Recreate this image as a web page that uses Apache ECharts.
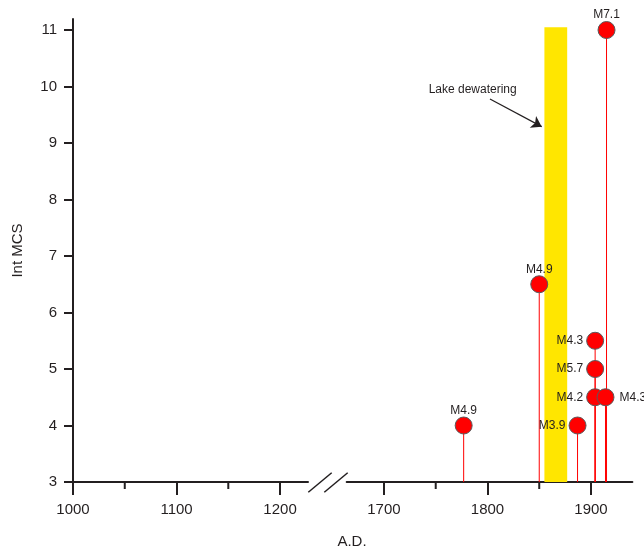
<!DOCTYPE html>
<html>
<head>
<meta charset="utf-8">
<script src="https://cdn.jsdelivr.net/npm/echarts@6/dist/echarts.min.js"></script>
<style>
  html, body { margin: 0; padding: 0; background: #fff; }
  #chart { width: 644px; height: 552px; }
</style>
</head>
<body>
<div id="chart"></div>
<script>
// events (year, intensity MCS, magnitude label)
const eventYears = [1777, 1850, 1887, 1904, 1904, 1904, 1914, 1915];
const intensities = [4, 6.5, 4, 4.5, 5, 5.5, 4.5, 11];
const magnitudes = ['M4.9', 'M4.9', 'M3.9', 'M4.2', 'M5.7', 'M4.3', 'M4.3', 'M7.1'];

// lake dewatering period
const dewateringSpan = [1855, 1877];
const dewateringTop = 11.05;
const dewateringText = 'Lake dewatering';
const arrowFrom = [1802.4, 9.78];
const arrowTo = [1852.4, 9.29];
const textAt = [1785.7, 9.945];

// axes
const yRange = [3, 11.195];
const yTicks = [3, 4, 5, 6, 7, 8, 9, 10, 11];
const leftRange = [1000, 1227];
const leftMajor = [1000, 1100, 1200];
const leftMinor = [1050, 1150];
const rightRange = [1664, 1940];
const rightMajor = [1700, 1800, 1900];
const rightMinor = [1750, 1850];

// label side for each event (style only)
const labelSide = ['top', 'top', 'left', 'left', 'left', 'left', 'right', 'top'];

const ink = '#231f20';

const chart = echarts.init(document.getElementById('chart'));

function xAxisFor(grid, range, ticks) {
    return {
        type: 'value', gridIndex: grid, position: 'bottom', min: range[0], max: range[1],
        axisLine: { show: true, lineStyle: { color: ink, width: 2 } },
        axisTick: { show: true, customValues: ticks, length: 13, lineStyle: { color: ink, width: 2 } },
        axisLabel: { customValues: ticks, margin: 20, color: ink, fontSize: 15, formatter: v => String(v) },
        splitLine: { show: false }
    };
}

const points = eventYears.map((yr, i) => ({
    value: [yr, intensities[i]],
    label: {
        show: true, formatter: magnitudes[i], position: labelSide[i],
        distance: labelSide[i] === 'right' ? 5 : (labelSide[i] === 'top' ? 0 : 3)
    }
}));

chart.setOption({
    animation: false,
    grid: [
        { left: 73, top: 19, width: 235, height: 463, outerBoundsMode: 'none' },
        { left: 346.7, top: 19, width: 285.7, height: 463, outerBoundsMode: 'none' }
    ],
    xAxis: [
        xAxisFor(0, leftRange, leftMajor),
        xAxisFor(1, rightRange, rightMajor)
    ],
    yAxis: [
        {
            type: 'value', gridIndex: 0, min: yRange[0], max: yRange[1],
            name: 'Int MCS', nameLocation: 'middle', nameGap: 48,
            nameTextStyle: { color: ink, fontSize: 15 },
            axisLine: { show: true, lineStyle: { color: ink, width: 2 } },
            axisTick: { show: true, customValues: yTicks, length: 9, lineStyle: { color: ink, width: 2 } },
            axisLabel: { show: true, customValues: yTicks, margin: 16, color: ink, fontSize: 15 },
            splitLine: { show: false }
        },
        { type: 'value', gridIndex: 1, min: yRange[0], max: yRange[1], show: false }
    ],
    series: [
        {
            type: 'custom', xAxisIndex: 1, yAxisIndex: 1, z: 1,
            data: [[dewateringSpan[0], dewateringSpan[1], dewateringTop]],
            renderItem(params, api) {
                const p0 = api.coord([api.value(0), api.value(2)]);
                const p1 = api.coord([api.value(1), yRange[0]]);
                return {
                    type: 'rect',
                    shape: { x: p0[0], y: p0[1], width: p1[0] - p0[0], height: p1[1] - p0[1] },
                    style: { fill: '#ffe600' }
                };
            }
        },
        {
            type: 'custom', xAxisIndex: 1, yAxisIndex: 1, z: 2,
            data: eventYears.map((yr, i) => [yr, intensities[i]]),
            renderItem(params, api) {
                const top = api.coord([api.value(0), api.value(1)]);
                const base = api.coord([api.value(0), yRange[0]]);
                return {
                    type: 'line',
                    shape: { x1: base[0], y1: base[1], x2: top[0], y2: top[1] },
                    style: { stroke: '#ff0000', lineWidth: 1 }
                };
            }
        },
        {
            type: 'scatter', xAxisIndex: 1, yAxisIndex: 1, z: 3,
            symbolSize: 17,
            itemStyle: { color: '#ff0000', borderColor: '#58595b', borderWidth: 1, opacity: 1 },
            label: { color: ink, fontSize: 12 },
            data: points,
            markLine: {
                silent: true, animation: false,
                symbol: ['none', 'arrow'], symbolSize: 10,
                lineStyle: { color: ink, width: 1.2, type: 'solid' },
                label: { show: false },
                data: [[{ coord: arrowFrom }, { coord: arrowTo }]]
            },
            markPoint: {
                silent: true, animation: false,
                symbol: 'circle', symbolSize: 0,
                label: { show: true, position: 'inside', formatter: '{b}', color: ink, fontSize: 12 },
                data: [{ name: dewateringText, coord: textAt }]
            }
        }
    ]
});

// minor ticks, break marks and the x title
function minorTicks(grid, values) {
    return values.map(v => {
        const p = chart.convertToPixel({ gridIndex: grid }, [v, yRange[0]]);
        return { type: 'line', shape: { x1: p[0], y1: p[1], x2: p[0], y2: p[1] + 7 }, style: { stroke: ink, lineWidth: 2 } };
    });
}

chart.setOption({
    graphic: [
        ...minorTicks(0, leftMinor),
        ...minorTicks(1, rightMinor),
        { type: 'line', shape: { x1: 308.3, y1: 492.3, x2: 331.7, y2: 472.7 }, style: { stroke: ink, lineWidth: 1.5 } },
        { type: 'line', shape: { x1: 324.3, y1: 492.3, x2: 347.7, y2: 472.7 }, style: { stroke: ink, lineWidth: 1.5 } },
        { type: 'text', x: 352, y: 542, style: { text: 'A.D.', fill: ink, fontSize: 15, textAlign: 'center', textVerticalAlign: 'middle' } }
    ]
});
</script>
</body>
</html>
